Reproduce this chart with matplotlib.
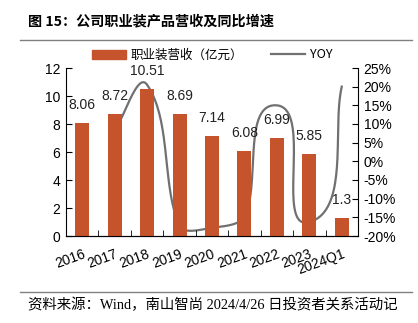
import numpy as np
import matplotlib
matplotlib.use('Agg')
import matplotlib.pyplot as plt
from matplotlib.lines import Line2D
from matplotlib.patches import Patch

categories = ['2016', '2017', '2018', '2019', '2020', '2021', '2022', '2023', '2024Q1']
revenue = [8.06, 8.72, 10.51, 8.69, 7.14, 6.08, 6.99, 5.85, 1.3]
revenue_labels = ['8.06', '8.72', '10.51', '8.69', '7.14', '6.08', '6.99', '5.85', '1.3']
# YOY starts at 2017
yoy = [8.2, 20.5, -17.3, -17.8, -14.8, 15.0, -16.3, 20.0]

BAR_COLOR = '#C5532B'
LINE_COLOR = '#707070'
W, H = 418, 323

plt.rcParams['font.family'] = ['Liberation Sans', 'Noto Sans CJK SC', 'DejaVu Sans']


def smooth_curve(xs, ys, sx, sy, k=0.3, n=40):
    """Excel-like smoothed line: bezier segments, tangents scaled by segment length."""
    P = np.column_stack([np.asarray(xs, float) * sx, np.asarray(ys, float) * sy])
    m = len(P)
    tang = []
    for i in range(m):
        if i == 0:
            d = P[1] - P[0]
        elif i == m - 1:
            d = P[-1] - P[-2]
        else:
            d = P[i + 1] - P[i - 1]
        tang.append(d / np.linalg.norm(d))
    out = []
    t = np.linspace(0, 1, n)[:, None]
    for i in range(m - 1):
        L = np.linalg.norm(P[i + 1] - P[i])
        c1 = P[i] + tang[i] * L * k
        c2 = P[i + 1] - tang[i + 1] * L * k
        seg = ((1 - t) ** 3) * P[i] + 3 * ((1 - t) ** 2) * t * c1 + 3 * (1 - t) * t ** 2 * c2 + t ** 3 * P[i + 1]
        out.append(seg)
    out = np.vstack(out)
    return out[:, 0] / sx, out[:, 1] / sy


fig = plt.figure(figsize=(W / 100, H / 100), dpi=100)

# title and rules
fig.text(28 / W, 1 - 21 / H, '图 15：公司职业装产品营收及同比增速', fontsize=10.2, weight='bold',
         family=['Noto Sans CJK SC'], va='center', ha='left')
fig.add_artist(Line2D([20 / W, 412 / W], [1 - 40 / H, 1 - 40 / H], color='#808080', lw=1))
fig.add_artist(Line2D([20 / W, 412 / W], [1 - 292 / H, 1 - 292 / H], color='#808080', lw=1))
fig.text(28 / W, 1 - 305 / H, '资料来源：Wind，南山智尚 2024/4/26 日投资者关系活动记', fontsize=10.4,
         family=['Liberation Serif', 'Noto Sans CJK SC'], va='center', ha='left')

ax = fig.add_axes([66 / W, 1 - 236 / H, (358 - 66) / W, (236 - 68) / H])
x = np.arange(len(categories))
ax.bar(x, revenue, width=0.43, color=BAR_COLOR, zorder=2)
for xi, v, lab in zip(x, revenue, revenue_labels):
    ax.annotate(lab, (xi, v), xytext=(0, 8), textcoords='offset points',
                ha='center', va='bottom', fontsize=10, color='#222222', zorder=4)

ax.set_xlim(-0.5, len(categories) - 0.5)
ax.set_ylim(0, 12)
ax.set_yticks(range(0, 13, 2))
ax.set_xticks(x)
ax.set_xticklabels(categories, rotation=20, ha='right', rotation_mode='anchor')
ax.set_xticks(np.arange(-0.5, len(categories), 1), minor=True)
ax.tick_params(axis='x', which='major', length=0, pad=8, labelsize=10)
ax.tick_params(axis='x', which='minor', direction='in', length=4)
ax.tick_params(axis='y', direction='in', length=4, labelsize=10, pad=4)
ax.spines['top'].set_visible(False)
ax.spines['right'].set_visible(False)

ax2 = ax.twinx()
ax2.set_ylim(-20, 25)
ax2.set_yticks(range(-20, 26, 5))
ax2.set_yticklabels([f'{v}%' for v in range(-20, 26, 5)])
ax2.tick_params(axis='y', direction='in', length=4, labelsize=10, pad=4)
ax2.spines['top'].set_visible(False)
ax2.spines['left'].set_visible(False)

sx, sy = 32.5, 3.76
cx, cy = smooth_curve(x[1:], yoy, sx, sy, k=0.3)
ax2.plot(cx, cy, color=LINE_COLOR, lw=1.6, zorder=3)
ax.set_zorder(ax2.get_zorder() + 1)
ax.patch.set_visible(False)

handles = [Patch(color=BAR_COLOR, label='职业装营收（亿元）'),
           Line2D([], [], color=LINE_COLOR, lw=1.6, label='YOY')]
fig.legend(handles=handles, loc='center', bbox_to_anchor=(212 / W, 1 - 55 / H), ncol=2,
           frameon=False, handlelength=2.7, handleheight=0.7,
           columnspacing=2.2, handletextpad=0.4, prop={'family': ['Noto Sans CJK SC', 'DejaVu Sans'], 'size': 9})

fig.savefig('out.png', dpi=100)
